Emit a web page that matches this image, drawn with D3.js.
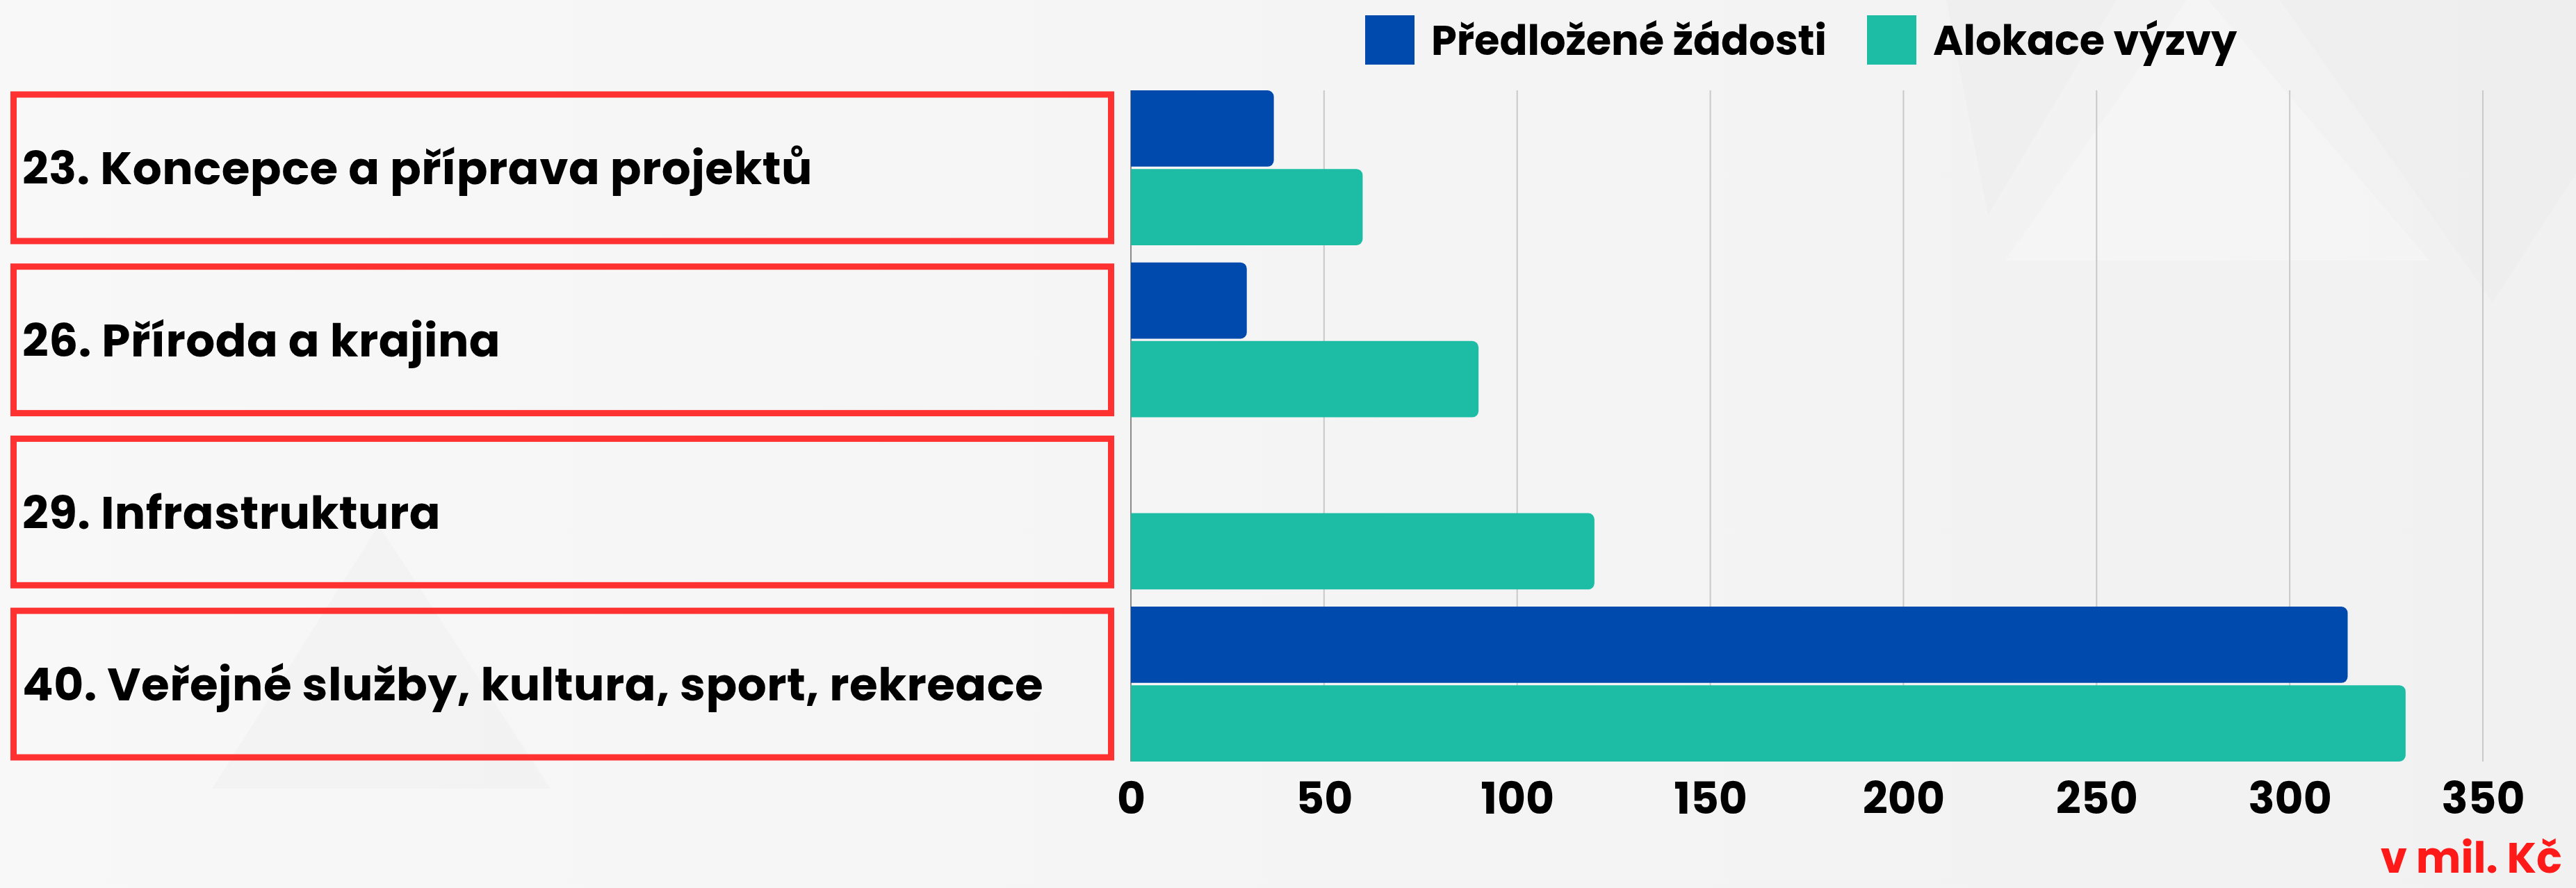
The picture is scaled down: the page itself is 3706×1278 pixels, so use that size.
<!DOCTYPE html>
<html>
<head>
<meta charset="utf-8">
<style>
  body { margin: 0; background: #f4f4f4; }
  svg { display: block; }
  text { font-family: "Poppins", "Lato", "Open Sans", sans-serif; font-weight: 700; fill: #000; }
  .grid line { stroke: #c9c9c9; stroke-width: 2px; }
  .zero { stroke: #8a8a8a; stroke-width: 2px; }
  .axis text { font-size: 63px; }
  .catbox { fill: none; stroke: #ff3131; stroke-width: 9px; }
  .catlabel { font-size: 66px; letter-spacing: 0.5px; }
  .legend text { font-size: 59px; }
  .unit { font-size: 61px; fill: #ff1a1a; }
</style>
</head>
<body>
<svg width="3706" height="1278"></svg>
<script src="https://cdn.jsdelivr.net/npm/d3@7"></script>
<script>

var categories = [
  "23. Koncepce a příprava projektů",
  "26. Příroda a krajina",
  "29. Infrastruktura",
  "40. Veřejné služby, kultura, sport, rekreace"
];
var seriesNames = ["Předložené žádosti", "Alokace výzvy"];
var predlozeneZadosti = [37, 30, 0, 315];
var alokaceVyzvy = [60, 90, 120, 330];
var xTicks = [0, 50, 100, 150, 200, 250, 300, 350];
var unitLabel = "v mil. Kč";

var colors = ["#004aad", "#1dbda5"];
var seriesValues = [predlozeneZadosti, alokaceVyzvy];

var svg = d3.select("svg"),
    W = +svg.attr("width"),
    H = +svg.attr("height");

var plot = {left: 1627, right: 3572, top: 130, bottom: 1096};

// background with faint geometric shapes
var defs = svg.append("defs");
var grad = defs.append("linearGradient").attr("id", "bg").attr("x1", 0).attr("x2", 1);
grad.append("stop").attr("offset", 0).attr("stop-color", "#f8f8f8");
grad.append("stop").attr("offset", 1).attr("stop-color", "#f1f1f1");
svg.append("rect").attr("width", W).attr("height", H).attr("fill", "url(#bg)");

var shapes = [
  {pts: [[2800, 0], [3045, 0], [2860, 310]], fill: "#ececec"},
  {pts: [[3160, -20], [2885, 375], [3495, 375]], fill: "#f6f6f6"},
  {pts: [[3280, 0], [3706, 0], [3706, 250], [3586, 435]], fill: "#ededed"},
  {pts: [[545, 756], [305, 1135], [792, 1135]], fill: "#f0f0f0"}
];
svg.append("g").selectAll("polygon")
  .data(shapes)
  .enter().append("polygon")
  .attr("points", function(d) { return d.pts.join(" "); })
  .attr("fill", function(d) { return d.fill; })
  .attr("opacity", 0.6);

var x = d3.scaleLinear().domain([0, 350]).range([plot.left, plot.right]);

var y0 = d3.scaleBand()
  .domain(categories)
  .range([plot.top, plot.bottom])
  .paddingInner(0.1)
  .paddingOuter(0);

var y1 = d3.scaleBand()
  .domain(seriesNames)
  .range([0, y0.bandwidth()])
  .paddingInner(0.03);

// gridlines
svg.append("g").attr("class", "grid")
  .selectAll("line")
  .data(xTicks.filter(function(t) { return t > 0; }))
  .enter().append("line")
  .attr("x1", function(d) { return x(d); })
  .attr("x2", function(d) { return x(d); })
  .attr("y1", plot.top)
  .attr("y2", plot.bottom);

svg.append("line").attr("class", "zero")
  .attr("x1", x(0)).attr("x2", x(0))
  .attr("y1", plot.top).attr("y2", plot.bottom);

// bars, rounded on the right end only
function barPath(x0, yy, w, h, r) {
  r = Math.min(r, w, h / 2);
  return "M" + x0 + "," + yy +
    "H" + (x0 + w - r) +
    "A" + r + "," + r + " 0 0 1 " + (x0 + w) + "," + (yy + r) +
    "V" + (yy + h - r) +
    "A" + r + "," + r + " 0 0 1 " + (x0 + w - r) + "," + (yy + h) +
    "H" + x0 + "Z";
}

var rows = categories.map(function(c, i) {
  return {cat: c, vals: seriesNames.map(function(s, j) { return {series: s, value: seriesValues[j][i], color: colors[j]}; })};
});

var groups = svg.append("g").selectAll("g")
  .data(rows)
  .enter().append("g")
  .attr("transform", function(d) { return "translate(0," + y0(d.cat) + ")"; });

groups.selectAll("path")
  .data(function(d) { return d.vals.filter(function(v) { return v.value > 0; }); })
  .enter().append("path")
  .attr("fill", function(d) { return d.color; })
  .attr("d", function(d) {
    return barPath(x(0), y1(d.series), x(d.value) - x(0), y1.bandwidth(), 9);
  });

// category boxes on the left
groups.append("rect")
  .attr("class", "catbox")
  .attr("x", 19.5)
  .attr("y", 6)
  .attr("width", 1579)
  .attr("height", y0.bandwidth() - 12);

groups.append("text")
  .attr("class", "catlabel")
  .attr("x", 32)
  .attr("y", y0.bandwidth() / 2)
  .attr("dy", "0.36em")
  .text(function(d) { return d.cat; });

// x axis
var xAxis = d3.axisBottom(x).tickValues(xTicks).tickSize(0).tickPadding(30);
var gx = svg.append("g").attr("class", "axis")
  .attr("transform", "translate(0," + plot.bottom + ")")
  .call(xAxis);
gx.select(".domain").remove();
gx.selectAll("text").attr("fill", "#000").style("font-family", null);

svg.append("text")
  .attr("class", "unit")
  .attr("x", 3686)
  .attr("y", 1256)
  .attr("text-anchor", "end")
  .text(unitLabel);

// legend
var legendX = [1964, 2686];
var legend = svg.append("g").attr("class", "legend")
  .selectAll("g")
  .data(seriesNames)
  .enter().append("g")
  .attr("transform", function(d, i) { return "translate(" + legendX[i] + ",22)"; });

legend.append("rect")
  .attr("width", 71)
  .attr("height", 71)
  .attr("fill", function(d, i) { return colors[i]; });

legend.append("text")
  .attr("x", 95)
  .attr("y", 36)
  .attr("dy", "0.36em")
  .text(function(d) { return d; });

</script>
</body>
</html>
